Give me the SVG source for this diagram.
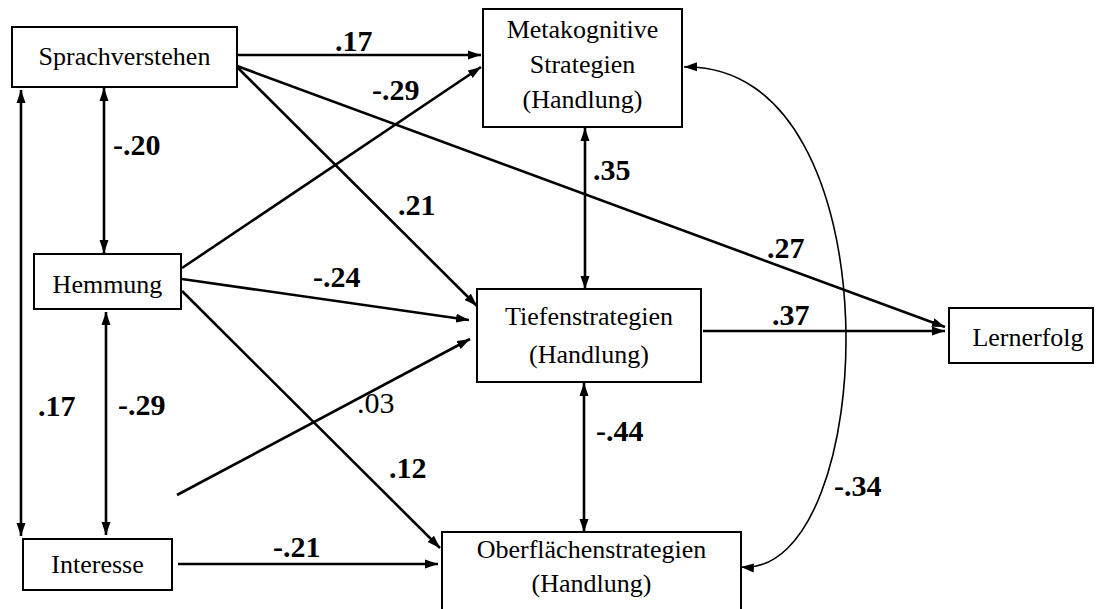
<svg xmlns="http://www.w3.org/2000/svg" width="1106" height="609" viewBox="0 0 1106 609">
<style>
.box{fill:#fff;stroke:#000;stroke-width:2}
text{font-family:'Liberation Serif','Tinos','Times New Roman','Times','Nimbus Roman','Nimbus Roman No9 L','FreeSerif','DejaVu Serif','Noto Serif',serif;fill:#000}
.t{font-size:26px;text-anchor:middle}
.c{stroke:#000;stroke-width:2.6;fill:none}
.cv{stroke:#000;stroke-width:1.6;fill:none}
.l{font-size:30px;font-weight:bold}
.ln{font-size:30px}
</style>
<defs>
<marker id="ah" markerUnits="userSpaceOnUse" markerWidth="14" markerHeight="10" refX="13" refY="5" orient="auto-start-reverse"><path d="M0,0.5 L13,5 L0,9.5 z" fill="#000"/></marker>
</defs>
<g id="connectors">
<line class="c" x1="238" y1="55" x2="481" y2="55" marker-end="url(#ah)"/>
<line class="c" x1="237" y1="66" x2="945" y2="327" marker-end="url(#ah)"/>
<line class="c" x1="237" y1="67" x2="477" y2="306" marker-end="url(#ah)"/>
<line class="c" x1="182" y1="268" x2="481" y2="67" marker-end="url(#ah)"/>
<line class="c" x1="182" y1="279" x2="469" y2="320" marker-end="url(#ah)"/>
<line class="c" x1="182" y1="291" x2="440" y2="548" marker-end="url(#ah)"/>
<line class="c" x1="177" y1="495" x2="470" y2="339" marker-end="url(#ah)"/>
<line class="c" x1="178" y1="564" x2="438" y2="564" marker-end="url(#ah)"/>
<line class="c" x1="104" y1="88" x2="104" y2="253" marker-start="url(#ah)" marker-end="url(#ah)"/>
<line class="c" x1="21" y1="90" x2="21" y2="536" marker-start="url(#ah)" marker-end="url(#ah)"/>
<line class="c" x1="106" y1="312" x2="106" y2="535" marker-start="url(#ah)" marker-end="url(#ah)"/>
<line class="c" x1="585" y1="128" x2="585" y2="289" marker-start="url(#ah)" marker-end="url(#ah)"/>
<line class="c" x1="584" y1="383" x2="584" y2="532" marker-start="url(#ah)" marker-end="url(#ah)"/>
<line class="c" x1="703" y1="331" x2="945" y2="331" marker-end="url(#ah)"/>
<path class="cv" d="M684,67 C900,62 880,578 741,567" marker-start="url(#ah)" marker-end="url(#ah)"/>
</g>
<g id="labels">
<text class="l" x="335" y="51">.17</text>
<text class="l" x="372" y="100">-.29</text>
<text class="l" x="113" y="155">-.20</text>
<text class="l" x="398" y="215">.21</text>
<text class="l" x="593" y="180">.35</text>
<text class="l" x="767" y="258">.27</text>
<text class="l" x="313" y="287">-.24</text>
<text class="l" x="772" y="325">.37</text>
<text class="l" x="38" y="416">.17</text>
<text class="l" x="118" y="415">-.29</text>
<text class="ln" x="357" y="413">.03</text>
<text class="l" x="389" y="478">.12</text>
<text class="l" x="596" y="441">-.44</text>
<text class="l" x="834" y="496">-.34</text>
<text class="l" x="273" y="557">-.21</text>
</g>
<g id="sprachverstehen"><rect class="box" x="12" y="27" width="225" height="60"/><text class="t" x="124.5" y="65">Sprachverstehen</text></g>
<g id="metakognitive"><rect class="box" x="483" y="9" width="199" height="118"/><text class="t" x="582.5" y="38">Metakognitive</text><text class="t" x="582.5" y="73">Strategien</text><text class="t" x="582.5" y="108">(Handlung)</text></g>
<g id="hemmung"><rect class="box" x="34" y="254" width="147" height="55"/><text class="t" x="107.5" y="293">Hemmung</text></g>
<g id="interesse"><rect class="box" x="23" y="539" width="149" height="51"/><text class="t" x="97.5" y="573">Interesse</text></g>
<g id="tiefenstrategien"><rect class="box" x="477" y="289" width="224" height="93"/><text class="t" x="589" y="325">Tiefenstrategien</text><text class="t" x="589" y="363">(Handlung)</text></g>
<g id="lernerfolg"><rect class="box" x="949" y="308" width="144" height="55"/><text class="t" x="1028" y="346">Lernerfolg</text></g>
<g id="oberflaechen"><rect class="box" x="442" y="532" width="299" height="90"/><text class="t" x="591.5" y="558">Oberflächenstrategien</text><text class="t" x="591.5" y="592">(Handlung)</text></g>
</svg>
